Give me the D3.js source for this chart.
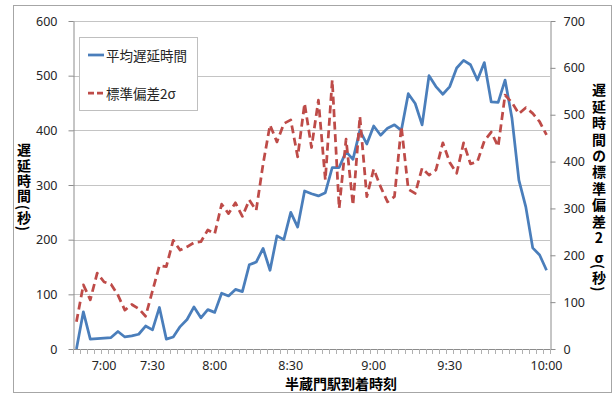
<!DOCTYPE html>
<html>
<head>
<meta charset="utf-8">
<script src="https://cdn.jsdelivr.net/npm/d3@7/dist/d3.min.js"></script>
<style>
  html, body { margin: 0; padding: 0; background: #fff; }
  svg { display: block; }
  text { font-family: "Noto Sans", "Noto Sans CJK JP", sans-serif; }
  .jp { font-family: "Noto Sans CJK JP", "Noto Sans", sans-serif; }
  .vt { font-family: "Noto Sans CJK JP", sans-serif; writing-mode: vertical-rl; text-orientation: mixed; }
  .up { text-orientation: upright; }
</style>
</head>
<body>
<svg id="chart" width="613" height="394"></svg>
<script>
// ---- data ----
const avgDelay = [0, 68, 18, 19, 20, 21, 32, 22, 24, 27,
  42, 35, 76, 18, 22, 41, 54, 77, 57, 72,
  67, 102, 97, 109, 105, 154, 159, 184, 144, 207,
  200, 250, 223, 289, 284, 280, 286, 332, 332, 361,
  347, 400, 375, 408, 391, 404, 410, 400, 467, 449,
  410, 500, 480, 466, 480, 514, 528, 520, 492, 524,
  452, 451, 492, 422, 309, 260, 185, 172, 144];
const stdDev2 = [58, 137, 105, 162, 143, 138, 115, 83, 95, 86,
  70, 124, 178, 176, 232, 211, 218, 227, 229, 254,
  246, 309, 289, 312, 283, 318, 296, 395, 478, 442,
  481, 489, 410, 524, 430, 531, 361, 574, 300, 448,
  307, 496, 325, 384, 346, 314, 325, 475, 341, 332,
  386, 371, 382, 440, 398, 375, 440, 395, 400, 444,
  463, 432, 542, 526, 502, 515, 503, 485, 457];
const timeLabels = ["7:00", "7:30", "8:00", "8:30", "9:00", "9:30", "10:00"];
const timeLabelIndex = [4, 11, 20, 31, 43, 54, 68];
const leftTicks = [0, 100, 200, 300, 400, 500, 600];
const rightTicks = [0, 100, 200, 300, 400, 500, 600, 700];
const seriesNames = ["平均遅延時間", "標準偏差2σ"];
const xTitle = "半蔵門駅到着時刻";
const leftTitleParts = [["遅延時間(秒)", false]];
const rightTitleParts = [["遅延時間の標準偏差", false], ["2σ", true], ["(秒)", false]];

// ---- layout ----
const svg = d3.select("#chart");
const L = 73, R = 550, T = 21, B = 349;
const blue = "#4A7EBB", red = "#BE4B48";
const axisColor = "#8c8c8c", gridColor = "#c4c4c4", textColor = "#262626";

const categories = d3.range(avgDelay.length);
const x = d3.scalePoint().domain(categories).range([L, R]).padding(0.5);
const yL = d3.scaleLinear().domain([0, 600]).range([B, T]);
const yR = d3.scaleLinear().domain([0, 700]).range([B, T]);

// chart border
svg.append("rect").attr("x", 13.5).attr("y", 5.5).attr("width", 598).attr("height", 387)
  .attr("fill", "#fff").attr("stroke", "#a6a6a6").attr("stroke-width", 1);

// gridlines
svg.append("g").selectAll("line").data(leftTicks.filter(d => d > 0)).join("line")
  .attr("x1", L).attr("x2", R)
  .attr("y1", d => Math.round(yL(d)) + 0.5).attr("y2", d => Math.round(yL(d)) + 0.5)
  .attr("stroke", gridColor).attr("stroke-width", 1);

// left axis
const gl = svg.append("g").attr("transform", `translate(${L + 0.5},0)`)
  .call(d3.axisLeft(yL).tickValues(leftTicks).tickSize(5).tickPadding(11).tickSizeOuter(0));
gl.select(".domain").attr("stroke", axisColor);
gl.selectAll(".tick line").attr("stroke", axisColor);
gl.selectAll(".tick text").attr("font-size", 12.5).attr("fill", textColor)
  .attr("font-family", "Noto Sans");

// right axis
const gr = svg.append("g").attr("transform", `translate(${R + 0.5},0)`)
  .call(d3.axisRight(yR).tickValues(rightTicks).tickSize(5).tickPadding(8).tickSizeOuter(0));
gr.select(".domain").attr("stroke", axisColor);
gr.selectAll(".tick line").attr("stroke", axisColor);
gr.selectAll(".tick text").attr("font-size", 12.5).attr("fill", textColor)
  .attr("font-family", "Noto Sans");

// bottom axis (category boundaries as tick marks)
const step = x.step();
const gb = svg.append("g");
gb.append("line").attr("x1", L).attr("x2", R).attr("y1", B + 0.5).attr("y2", B + 0.5)
  .attr("stroke", axisColor);
gb.selectAll("line.tk").data(d3.range(categories.length + 1)).join("line").attr("class", "tk")
  .attr("x1", k => Math.round(x(0) - step / 2 + k * step) + 0.5)
  .attr("x2", k => Math.round(x(0) - step / 2 + k * step) + 0.5)
  .attr("y1", B).attr("y2", B + 5)
  .attr("stroke", "#b0b0b0");
gb.selectAll("text").data(timeLabels).join("text")
  .attr("x", (d, i) => x(timeLabelIndex[i]))
  .attr("y", 370)
  .attr("text-anchor", "middle")
  .attr("font-size", 12.5).attr("fill", textColor)
  .text(d => d);

// series
const lineL = d3.line().x((d, i) => x(i)).y(d => yL(d));
const lineR = d3.line().x((d, i) => x(i)).y(d => yR(d));
svg.append("path").datum(avgDelay).attr("d", lineL)
  .attr("fill", "none").attr("stroke", blue).attr("stroke-width", 2.75)
  .attr("stroke-linejoin", "round");
svg.append("path").datum(stdDev2).attr("d", lineR)
  .attr("fill", "none").attr("stroke", red).attr("stroke-width", 2.75)
  .attr("stroke-dasharray", "8,4.5").attr("stroke-linejoin", "round");

// legend
const lg = svg.append("g");
lg.append("rect").attr("x", 79.5).attr("y", 37.5).attr("width", 118).attr("height", 73)
  .attr("fill", "#fff").attr("stroke", "#bfbfbf");
const legendItems = [
  { name: seriesNames[0], color: blue, dash: null, y: 55 },
  { name: seriesNames[1], color: red, dash: "6,3", y: 93 }
];
legendItems.forEach(it => {
  lg.append("line").attr("x1", 88).attr("x2", 104).attr("y1", it.y).attr("y2", it.y)
    .attr("stroke", it.color).attr("stroke-width", 2.75)
    .attr("stroke-dasharray", it.dash);
  lg.append("text").attr("class", "jp").attr("x", 106).attr("y", it.y)
    .attr("dominant-baseline", "central")
    .attr("font-size", 13.5).attr("fill", textColor)
    .text(it.name);
});

// x title
svg.append("text").attr("class", "jp").attr("x", 341).attr("y", 383)
  .attr("text-anchor", "middle").attr("dominant-baseline", "central")
  .attr("font-size", 14).attr("font-weight", "bold").attr("fill", "#000")
  .text(xTitle);

// vertical titles: one text element in vertical writing mode, per-glyph positions
function verticalTitle(parts, cx, starts) {
  const t = svg.append("text").attr("class", "vt")
    .attr("x", cx).attr("y", starts.join(" "))
    .attr("dominant-baseline", "central")
    .attr("font-size", 14).attr("font-weight", "bold").attr("fill", "#000");
  parts.forEach(([s, upright]) => {
    t.append("tspan").attr("class", upright ? "up" : null).text(s);
  });
}
verticalTitle(leftTitleParts, 24, [143, 159, 174, 189, 204.7, 211, 225.7]);
verticalTitle(rightTitleParts, 599,
  [83, 99.4, 115.8, 132.2, 148.6, 165, 181.4, 197.8, 214.2, 230.5, 250.5, 263.7, 270.5, 286.2]);
</script>
</body>
</html>
